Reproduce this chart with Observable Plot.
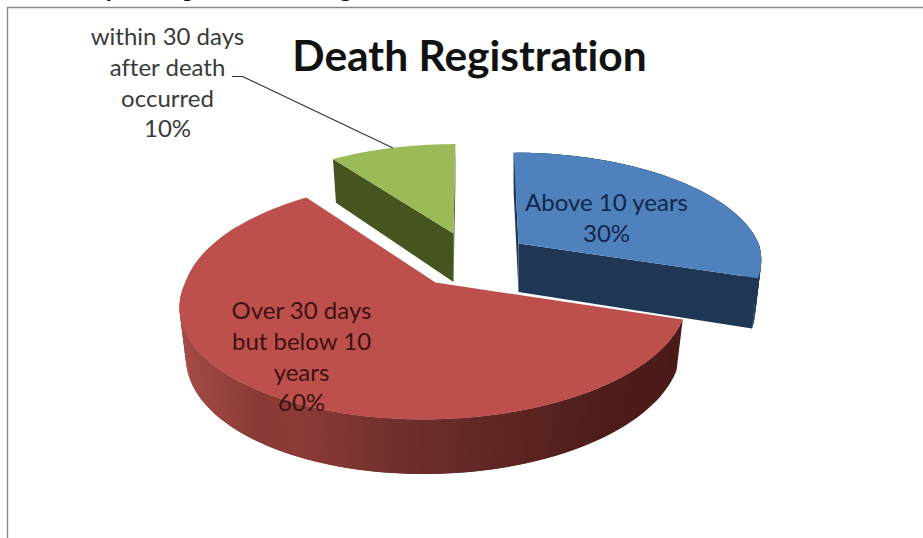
<!DOCTYPE html>
<html>
<head>
<meta charset="utf-8">
<script src="https://cdn.jsdelivr.net/npm/d3@7"></script>
<script src="https://cdn.jsdelivr.net/npm/@observablehq/plot@0.6"></script>
<style>html,body{margin:0;padding:0;background:#fff}svg{display:block}svg text{font-variant-ligatures:none}</style>
</head>
<body>
<div id="chart"></div>
<script>
const titleText = "Death Registration";
const categories = ["Above 10 years", "Over 30 days\nbut below 10\nyears", "within 30 days\nafter death\noccurred"];
const shares = [30, 60, 10];
const clippedLetters = ["y", "p", "g"];

// --- pictorial projection of the exploded 3D pie (not data) ---
const W = 923, H = 538;
const R = 250, S = 113.7, K = 0.17;
const looks = [
  {ax: 518, ay: 243, sx: 0.96, sy: 0.935, far: 1, lean: () => -5, top: "#4f81bd", side: "#1f3655", lx: 606, ly: 216, ink: "#12264a"},
  {ax: 435, ay: 282, sx: 1.00, sy: 1.00, far: 1.05, lean: v => v > 0 ? -12 : 0, top: "#bd504c", side: null, lx: 301, ly: 355, ink: "#3c1011"},
  {ax: 453, ay: 233, sx: 0.945, sy: 0.92, far: 1, lean: () => 2, top: "#9bbb59", side: "#46551f", lx: 167, ly: 81, ink: "#3a3a3a"}
];
const rad = d => d * Math.PI / 180;
function proj(l, deg, t, low) {
  const u = Math.sin(rad(deg)) * t, v = -Math.cos(rad(deg)) * t, w = 1 - K * v;
  const dx = l.sx * (R * u / w + l.lean(v) * Math.abs(v)), dy = l.sy * (v < 0 ? l.far : 1) * S * v / w;
  return low
    ? {x: l.ax + 0.975 * dx, y: l.ay + dy + 48.5 + 6 * v}
    : {x: l.ax + dx, y: l.ay + dy};
}
const redStops = d3.scaleLinear()
  .domain([180, 215, 260, 300, 400, 500, 600, 685])
  .range(["#a44e49", "#9a4540", "#8a3a36", "#8c3b36", "#6f2f2c", "#5f2724", "#4e1d1a", "#4a1b19"])
  .clamp(true);

let cum = 0;
const angles = shares.map(s => { const a = cum * 3.6; cum += s; return [a, cum * 3.6]; });
const rows = [];
function poly(id, color, pts) { pts.forEach(p => rows.push({id, color, x: p.x, y: p.y})); }
const drawOrder = [2, 0, 1];
drawOrder.forEach(i => {
  const l = looks[i], [a0, a1] = angles[i];
  if (l.side) {
    [a0, a1].forEach((a, k) => poly(`cut${i}${k}`, l.side, [proj(l, a, 0), proj(l, a, 1), proj(l, a, 1, true), proj(l, a, 0, true)]));
  }
  if (a1 - a0 > 40) {
    for (let a = a0; a < Math.min(a1, 300); a += 1) {
      const mid = proj(l, a + 0.5, 1, true);
      const b = Math.min(a + 2, a1), p = proj(l, a, 1), q = proj(l, b, 1), pl = proj(l, a, 1, true), ql = proj(l, b, 1, true);
      poly(`rim${i}${a}`, l.side || redStops(mid.x), [p, q, ql, pl]);
    }
  }
  const topPts = [proj(l, a0, 0)];
  for (let a = a0; a <= a1; a += 1) topPts.push(proj(l, a, 1));
  poly(`top${i}`, l.top, topPts);
});

const labels = categories.map((c, i) => ({text: `${c}\n${shares[i]}%`, x: looks[i].lx, y: looks[i].ly, ink: looks[i].ink}));
const leader = [{x: 232, y: 76}, {x: 242, y: 76}, proj(looks[2], 342, 1)];
const frameTop = 7, frameLeft = 7;
const clipped = clippedLetters.map((t, i) => ({t, x: [112, 190, 345][i]}));

const chart = Plot.plot({
  width: W, height: H, margin: 0,
  x: {domain: [0, W], range: [0, W], axis: null},
  y: {domain: [0, H], range: [0, H], axis: null},
  color: {type: "identity"},
  style: {background: "#fff"},
  marks: [
    Plot.text(clipped, {x: "x", y: () => -5, text: "t", fontFamily: "Liberation Serif", fontSize: 24, fontWeight: "bold", fill: "#111", lineAnchor: "bottom", dy: 0}),
    Plot.ruleY([frameTop], {stroke: "#8a8a8a", strokeWidth: 1.6, x1: frameLeft, x2: W}),
    Plot.ruleX([frameLeft], {stroke: "#8a8a8a", strokeWidth: 1.4, y1: frameTop, y2: H}),
    Plot.line(rows, {x: "x", y: "y", z: "id", fill: "color", stroke: "none", curve: "linear"}),
    Plot.line(leader, {x: "x", y: "y", stroke: "#333", strokeWidth: 1.1, curve: "linear"}),
    Plot.text(labels, {x: "x", y: "y", text: "text", fill: "ink", fontFamily: "Lato", fontSize: 24, lineHeight: 1.28}),
    Plot.text([titleText], {x: () => 469, y: () => 57, text: d => d, fontFamily: "Lato", fontWeight: "bold", fontSize: 42.5, fill: "#111"})
  ]
});
document.getElementById("chart").append(chart);
</script>
</body>
</html>
